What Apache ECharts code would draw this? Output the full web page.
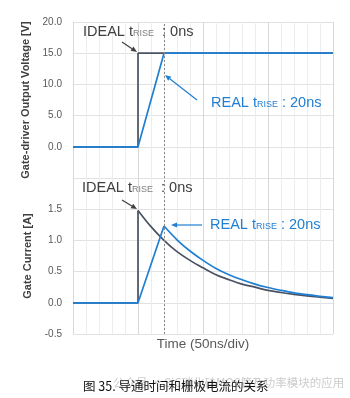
<!DOCTYPE html>
<html>
<head>
<meta charset="utf-8">
<script src="https://cdn.jsdelivr.net/npm/echarts@6/dist/echarts.min.js"></script>
<style>
  html, body { margin: 0; padding: 0; background: #fff; }
  #chart { width: 350px; height: 398px; }
</style>
</head>
<body>
<div id="chart"></div>
<script>
// Time axis in grid divisions (10 ns each, 50 ns per major division)
const timeMin = 0;
const timeMax = 20;
const edgeTime = 7;            // end of the 20 ns real rise

// Gate-driver output voltage [V]: [time, value]
const voltageIdeal = [[0, 0], [5, 0], [5, 15], [20, 15]];
const voltageReal  = [[0, 0], [5, 0], [7, 15], [20, 15]];

// Gate current [A]: [time, value]; first three points are the turn-on edge
const currentIdeal = [
  [0, 0], [5, 0], [5, 1.48], [6, 1.22], [7, 1.00], [8, 0.82], [9, 0.68],
  [10, 0.56], [11, 0.45], [12, 0.37], [13, 0.30], [14, 0.25], [15, 0.20],
  [16, 0.165], [17, 0.135], [18, 0.11], [19, 0.09], [20, 0.072]
];
const currentReal = [
  [0, 0], [5, 0], [7, 1.23], [8, 1.01], [9, 0.83], [10, 0.68], [11, 0.55],
  [12, 0.45], [13, 0.37], [14, 0.30], [15, 0.245], [16, 0.20], [17, 0.16],
  [18, 0.13], [19, 0.105], [20, 0.082]
];

// Axis ranges / tick steps
const voltageAxis = { min: -5, max: 20, step: 5 };
const currentAxis = { min: -0.5, max: 2.0, step: 0.5 };

// Text
const voltageName = 'Gate-driver Output Voltage [V]';
const currentName = 'Gate Current [A]';
const timeName = 'Time (50ns/div)';
const caption = '图 35. 导通时间和栅极电流的关系';
const watermark = '公众号 · SiC碳化硅MOS管及功率模块的应用';

const GRAY_LINE = '#4a5263';
const BLUE = '#1f7fd3';
const FONT = '"Liberation Sans", Arial, sans-serif';

const chart = echarts.init(document.getElementById('chart'), null, { renderer: 'canvas' });

function xAxisCfg(gridIndex, withName) {
  return {
    type: 'value', gridIndex, min: timeMin, max: timeMax, interval: 1,
    axisLine: { show: false }, axisTick: { show: false }, axisLabel: { show: false },
    splitLine: { show: true, lineStyle: { width: 1,
      color: ['#d8d8d8', '#ededed', '#ededed', '#ededed', '#ededed'] } },
    name: withName ? timeName : '',
    nameLocation: 'middle', nameGap: 3,
    nameTextStyle: { fontSize: 13.5, color: '#595959', fontFamily: FONT, verticalAlign: 'top' }
  };
}

// hideValue: a tick value whose label is left blank (shared edge between the panels)
function yAxisCfg(gridIndex, ax, name, hideValue) {
  return {
    type: 'value', gridIndex, min: ax.min, max: ax.max, interval: ax.step,
    axisLine: { show: false }, axisTick: { show: false },
    axisLabel: { margin: 11, fontSize: 10, color: '#595959', fontFamily: FONT,
      formatter: v => (Math.abs(v - hideValue) < 1e-9 ? '' : v.toFixed(1)) },
    splitLine: { show: true, lineStyle: { color: '#e2e2e2', width: 1 } },
    name, nameLocation: 'middle', nameGap: 39,
    nameTextStyle: { fontSize: 11, fontWeight: 'bold', color: '#404040', fontFamily: FONT }
  };
}

function line(data, color, xi, yi, z, smooth) {
  return {
    type: 'line', data, xAxisIndex: xi, yAxisIndex: yi, symbol: 'none',
    smooth: smooth ? 0.35 : false,
    lineStyle: { color, width: 1.7 }, z, animation: false
  };
}

function edgeMark(xi, yi) {
  return {
    type: 'line', data: [], xAxisIndex: xi, yAxisIndex: yi, animation: false,
    markLine: {
      silent: true, symbol: 'none', label: { show: false },
      lineStyle: { color: '#8a8a8a', type: [2, 2], width: 1 },
      data: [{ xAxis: edgeTime }]
    }
  };
}

// Annotation arrow: shaft plus a small filled head at (x2, y2)
function arrow(x1, y1, x2, y2, color) {
  const a = Math.atan2(y2 - y1, x2 - x1);
  const L = 6, W = 2.6;
  const bx = x2 - L * Math.cos(a), by = y2 - L * Math.sin(a);
  const px = -Math.sin(a) * W, py = Math.cos(a) * W;
  return [
    { type: 'line', shape: { x1, y1, x2: bx, y2: by }, style: { stroke: color, lineWidth: 1.2 }, z: 10 },
    { type: 'polygon', shape: { points: [[x2, y2], [bx + px, by + py], [bx - px, by - py]] },
      style: { fill: color }, z: 10 }
  ];
}

function labelText(left, top, main, sub, tail, color, subColor) {
  return {
    type: 'text', left, top, z: 10,
    style: {
      text: `{m|${main}}{s|${sub}}{m|${tail}}`,
      rich: {
        m: { fontSize: 14.5, fill: color, fontFamily: FONT, verticalAlign: 'bottom' },
        s: { fontSize: 9, fill: subColor, fontFamily: FONT, verticalAlign: 'bottom', padding: [0, 0, 1, 0] }
      }
    }
  };
}

chart.setOption({
  backgroundColor: '#fff',
  animation: false,
  grid: [
    { left: 73, right: 17, top: 22, height: 156 },
    { left: 73, right: 17, top: 178, height: 156 }
  ],
  xAxis: [xAxisCfg(0, false), xAxisCfg(1, true)],
  yAxis: [
    yAxisCfg(0, voltageAxis, voltageName, voltageAxis.min),
    yAxisCfg(1, currentAxis, currentName, currentAxis.max)
  ],
  series: [
    edgeMark(0, 0), edgeMark(1, 1),
    line(voltageIdeal, GRAY_LINE, 0, 0, 3),
    line(voltageReal, BLUE, 0, 0, 4),
    line(currentIdeal.slice(0, 3), GRAY_LINE, 1, 1, 3),
    line(currentIdeal.slice(2), GRAY_LINE, 1, 1, 3, true),
    line(currentReal.slice(0, 3), BLUE, 1, 1, 4),
    line(currentReal.slice(2), BLUE, 1, 1, 4, true)
  ],
  graphic: [
    labelText(83, 24, 'IDEAL t', 'RISE', '  : 0ns', '#404040', '#7f7f7f'),
    ...arrow(122, 42, 137, 52, '#404040'),
    labelText(211, 95, 'REAL t', 'RISE', ' : 20ns', BLUE, BLUE),
    ...arrow(197, 100, 165, 75, BLUE),
    labelText(82, 180, 'IDEAL t', 'RISE', '  : 0ns', '#404040', '#7f7f7f'),
    ...arrow(122, 200, 137, 209, '#404040'),
    labelText(210, 217, 'REAL t', 'RISE', ' : 20ns', BLUE, BLUE),
    ...arrow(202, 225, 171, 225, BLUE),
    {
      type: 'text', left: 113, top: 377, z: 1,
      style: { text: watermark, fontSize: 11.5, fill: '#cccccc', fontFamily: '"Noto Sans CJK SC", sans-serif' }
    },
    {
      type: 'text', left: 83, top: 380, z: 2,
      style: { text: caption, fontSize: 12.5, fill: '#111', fontFamily: '"Noto Sans CJK SC", sans-serif' }
    }
  ]
});
</script>
</body>
</html>
